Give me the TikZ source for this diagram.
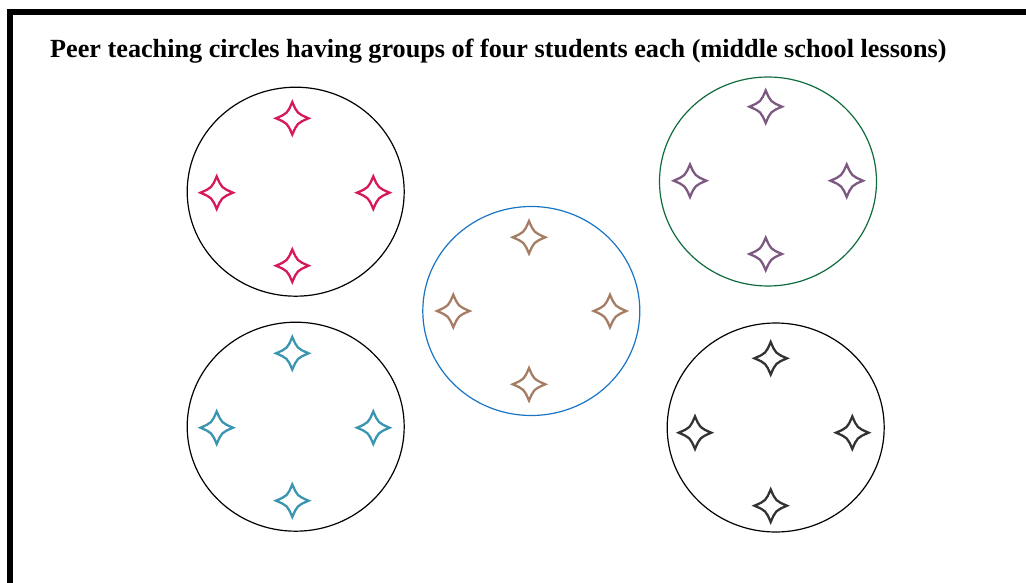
\documentclass[tikz,border=0pt]{standalone}
\usepackage{fontspec}
\setmainfont{Liberation Serif}
\usetikzlibrary{shapes.geometric}
\definecolor{cpink}{HTML}{D6185C}
\definecolor{cbrown}{HTML}{A57D65}
\definecolor{cpurple}{HTML}{7D5982}
\definecolor{cteal}{HTML}{3A96B0}
\definecolor{cdark}{HTML}{333333}
\definecolor{cblue}{HTML}{1874C4}
\definecolor{cgreen}{HTML}{0E6B3C}
\tikzset{
  group/.style={ellipse, draw=black, line width=1.2pt, minimum width=217pt, minimum height=209pt, inner sep=0pt},
  pstar/.pic={\draw[line width=2.3pt, line join=miter, miter limit=3, pic actions]
     (0,-16.3) .. controls (4.9,-4.9) .. (16.3,0) .. controls (4.9,4.9) .. (0,16.3)
     .. controls (-4.9,4.9) .. (-16.3,0) .. controls (-4.9,-4.9) .. cycle;},
  titlestyle/.style={anchor=base west, inner sep=0pt, font=\fontsize{26.2}{30}\selectfont\bfseries}
}
\begin{document}
\begin{tikzpicture}[x=1pt,y=-1pt]
\useasboundingbox (0,0) rectangle (1026,583);
\clip (0,0) rectangle (1026,583);
\draw[line width=6pt] (10,1000) -- (10,12) -- (1100,12);
\node[titlestyle] (title) at (50,57.5) {Peer teaching circles having groups of four students each (middle school lessons)};
% groups
\node[group] (g1) at (295.7,191.7) {};
\node[group, draw=cgreen] (g2) at (768,181.5) {};
\node[group, draw=cblue] (g3) at (531.3,311) {};
\node[group] (g4) at (295.7,426.7) {};
\node[group] (g5) at (775.7,427.5) {};
% students
\foreach \p in {(292.3,118.3),(216.7,192.7),(373.3,192.7),(292.3,265.7)}
  \pic[draw=cpink] at \p {pstar};
\foreach \p in {(765.7,106.7),(690,180.7),(846.7,180.7),(765.7,254)}
  \pic[draw=cpurple] at \p {pstar};
\foreach \p in {(529,237.3),(453.3,311),(610,311),(529,384.3)}
  \pic[draw=cbrown] at \p {pstar};
\foreach \p in {(292.3,353.3),(216.7,427.7),(373.3,427.7),(292.3,500.7)}
  \pic[draw=cteal] at \p {pstar};
\foreach \p in {(770.7,358.3),(695,432.7),(852.3,432.7),(770.7,505.7)}
  \pic[draw=cdark] at \p {pstar};
\end{tikzpicture}
\end{document}
